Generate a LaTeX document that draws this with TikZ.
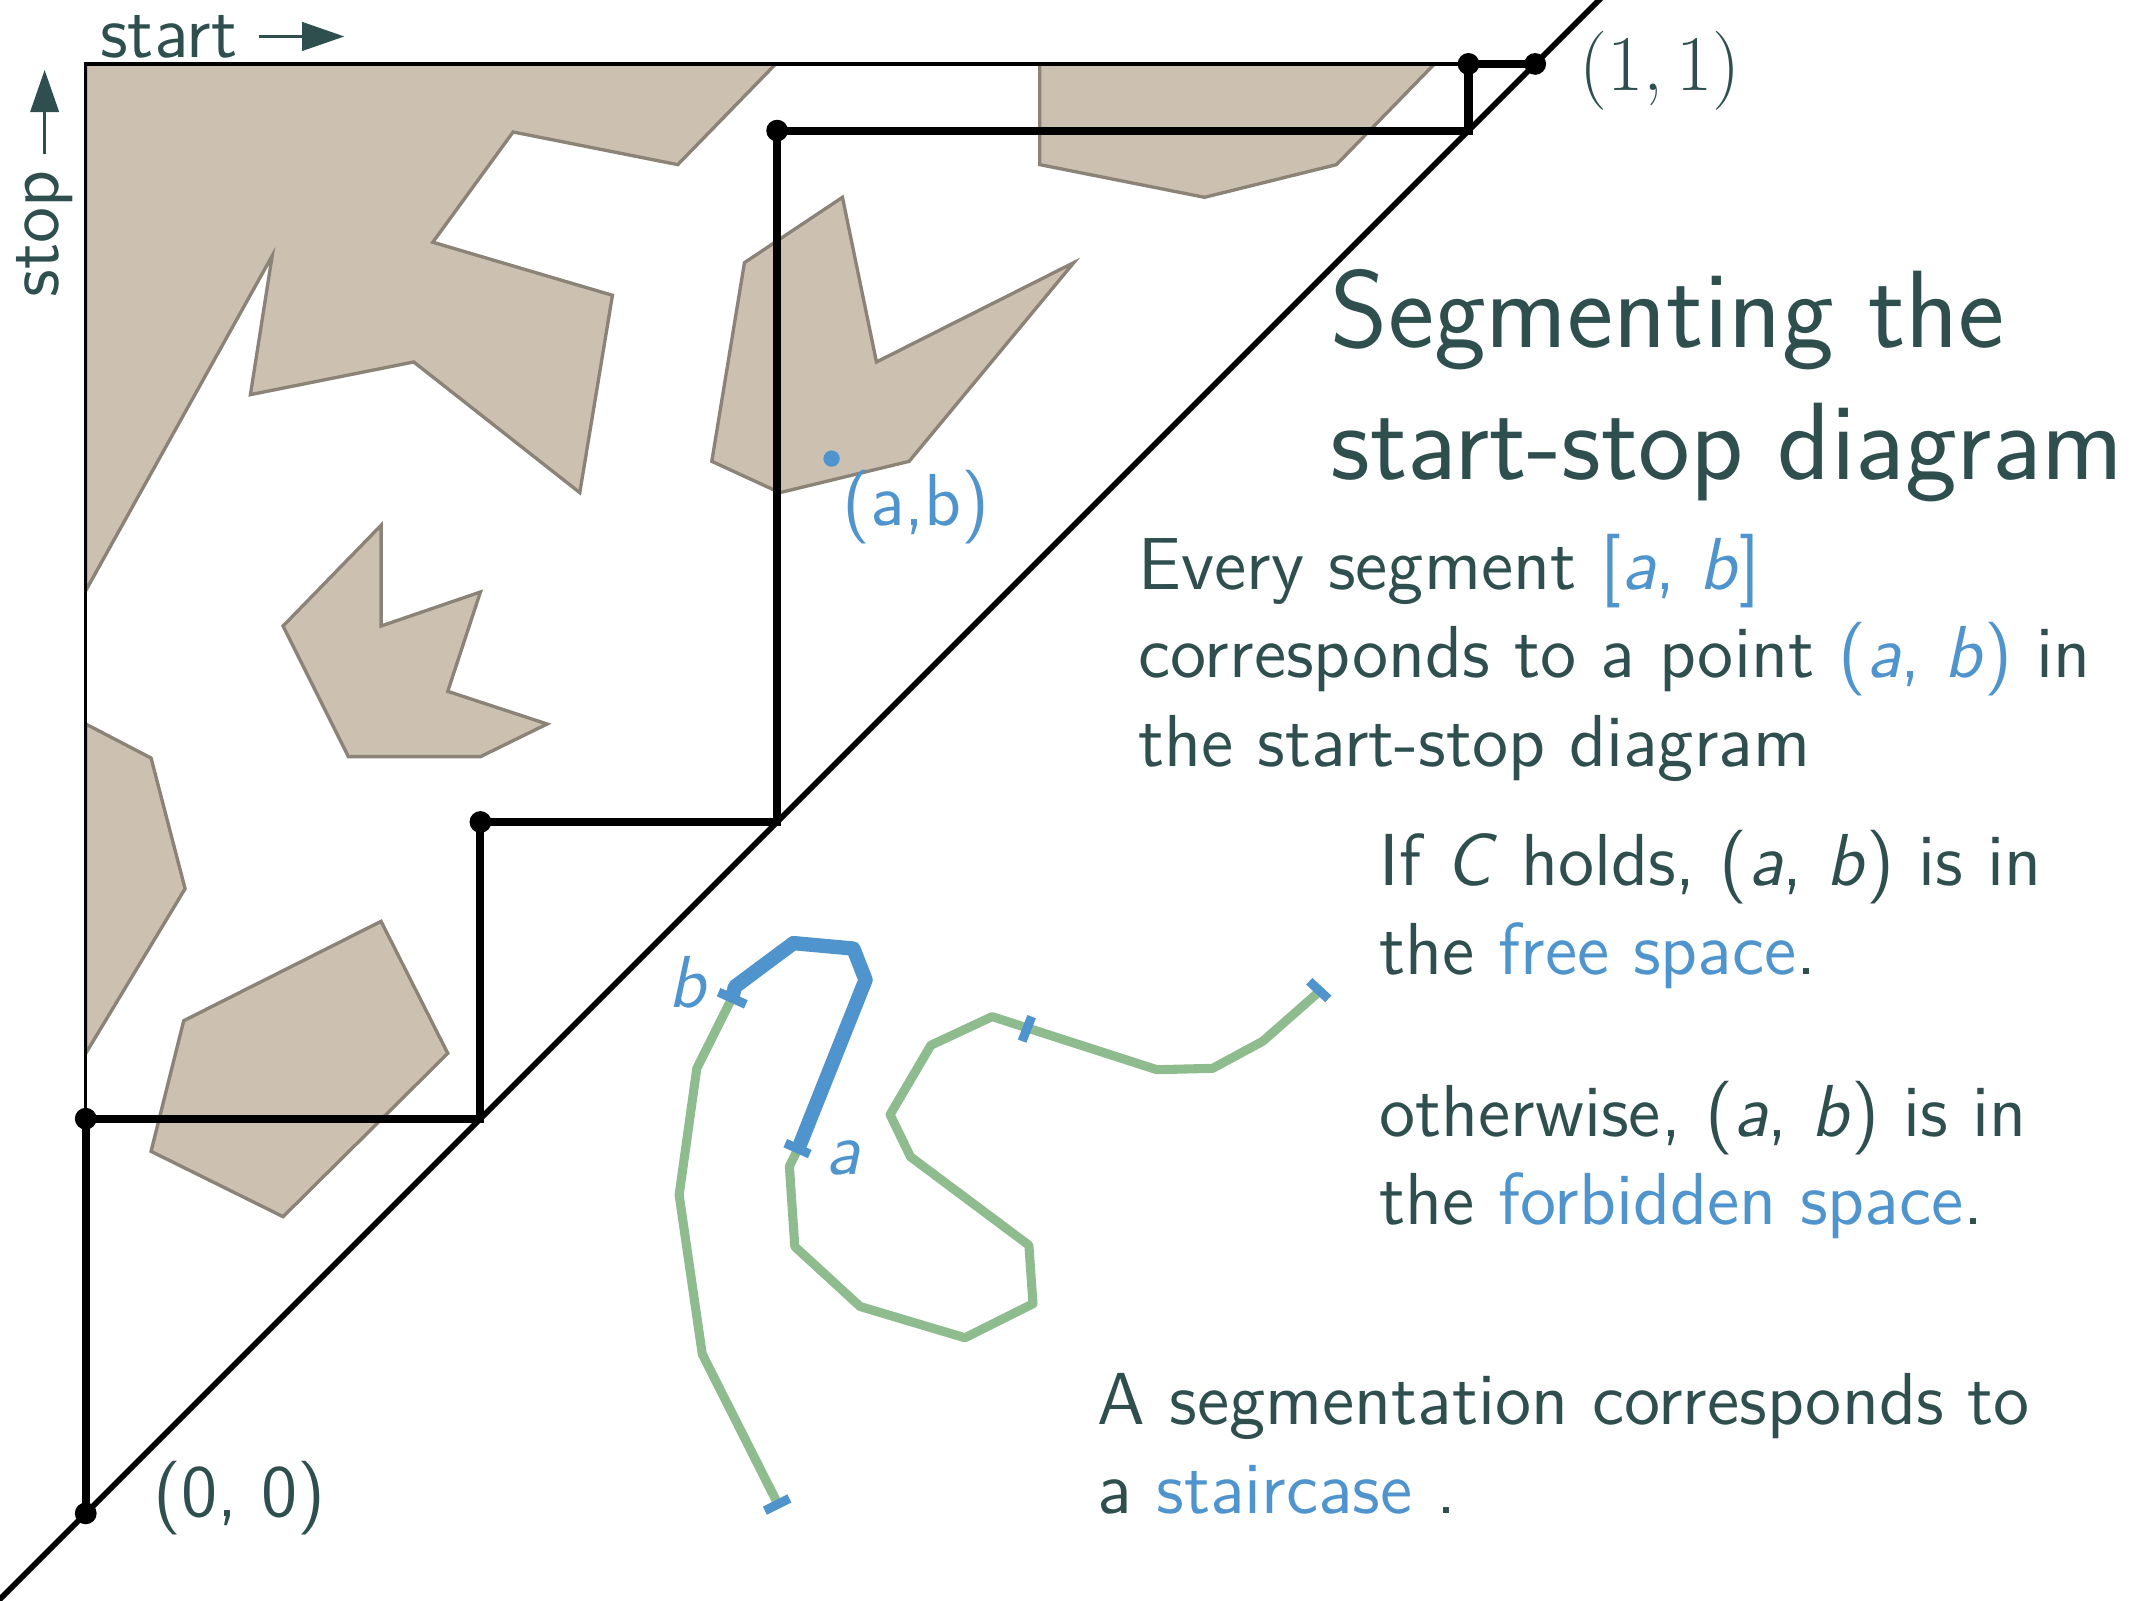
\documentclass[tikz,border=0pt]{standalone}
\usetikzlibrary{arrows.meta,calc}
\definecolor{ink}{HTML}{2F4F4F}
\definecolor{hl}{HTML}{4F94CD}
\definecolor{track}{HTML}{8FBC8F}
\definecolor{sand}{HTML}{CCC0B0}
\definecolor{sandedge}{HTML}{8B8378}
\newcommand{\hilite}[1]{\textcolor{hl}{#1}}

\begin{document}
\begin{tikzpicture}[
  font=\sffamily,
  >={Triangle[length=3.1mm,width=2.1mm]},
  body/.style={font=\sffamily\fontsize{15.4}{18.5}\selectfont, text=ink,
               align=left, inner sep=0pt},
  heading/.style={font=\sffamily\fontsize{23}{27.5}\selectfont, text=ink,
                  align=left, inner sep=0pt},
  axis/.style={->, draw=ink, line width=0.5pt},
  forbidden/.style={fill=sand, draw=sandedge, line width=0.7pt},
  border/.style={draw=black, line width=0.7pt},
  stair/.style={draw=black, line width=1.7pt},
  corner/.style={circle, fill=black, inner sep=0pt, minimum size=1.6mm},
  trackline/.style={draw=track, line width=1.9pt, line join=round},
  picked/.style={draw=hl, line width=3pt, line join=round},
  tick/.style={draw=hl, line width=1.9pt}
]
\useasboundingbox (0,0) rectangle (15.68,11.76);

% forbidden space
\draw[forbidden] (0.63,11.29) -- (5.70,11.29) -- (4.98,10.55) -- (3.77,10.79)
  -- (3.18,9.98) -- (4.50,9.59) -- (4.26,8.14) -- (3.04,9.10) -- (1.84,8.86)
  -- (2.00,9.88) -- (0.63,7.42) -- cycle;
\draw[forbidden] (7.64,11.29) -- (7.64,10.55) -- (8.85,10.31) -- (9.82,10.55)
  -- (10.54,11.29) -- cycle;
\draw[forbidden] (5.47,9.83) -- (6.19,10.31) -- (6.44,9.10) -- (7.89,9.83)
  -- (6.68,8.37) -- (5.73,8.14) -- (5.23,8.37) -- cycle;
\draw[forbidden] (2.80,7.90) -- (2.80,7.16) -- (3.53,7.41) -- (3.29,6.68)
  -- (4.02,6.44) -- (3.53,6.20) -- (2.56,6.20) -- (2.08,7.16) -- cycle;
\draw[forbidden] (0.63,6.44) -- (1.11,6.19) -- (1.36,5.23) -- (0.63,4.02) -- cycle;
\draw[forbidden] (1.35,4.26) -- (2.80,4.99) -- (3.29,4.02) -- (2.08,2.82)
  -- (1.11,3.30) -- cycle;

% start-stop square and diagonal
\coordinate (O) at (0.63,0.64);
\coordinate (E) at (11.28,11.29);
\draw[border] (O) |- (E);
\draw[line width=1.2pt] ($(O)!-0.08!(E)$) -- ($(O)!1.07!(E)$);

% staircase
\coordinate (s1) at (0.63,3.54);
\coordinate (d1) at (3.53,3.54);
\coordinate (s2) at (3.53,5.72);
\coordinate (d2) at (5.71,5.72);
\coordinate (s3) at (5.71,10.80);
\coordinate (d3) at (10.79,10.80);
\coordinate (s4) at (10.79,11.29);
\draw[stair] (O) -- (s1) -- (d1) -- (s2) -- (d2) -- (s3) -- (d3) -- (s4) -- (E);
\foreach \p in {O,s1,s2,s3,s4,E}
  \node[corner] at (\p) {};

% axes
\node[body, anchor=base west] (startlbl) at (0.73,11.34) {start};
\draw[axis] ([xshift=1.5mm]startlbl.east) -- ([xshift=7.8mm]startlbl.east);
\node[body, rotate=90, anchor=base west] (stoplbl) at (0.43,9.57) {stop};
\draw[axis] ([yshift=1.1mm]stoplbl.east) -- ([yshift=7.3mm]stoplbl.east);

\node[body, anchor=west] (zero) at (1.12,0.755) {(0, 0)};
\node[body, anchor=west, font=\rmfamily\fontsize{16.5}{18.5}\selectfont] (one)
  at (11.60,11.24) {(1,\,1)};

% the point (a,b)
\node[circle, fill=hl, inner sep=0pt, minimum size=1.2mm] (ab) at (6.11,8.39) {};
\node[body, text=hl] (ablbl) at (6.73,8.03) {(a,b)};

% track with a segment
\draw[trackline] (5.71,0.72) -- (5.16,1.81) -- (4.99,2.98) -- (5.12,3.91) -- (5.38,4.43);
\draw[trackline] (5.87,3.33) -- (5.80,3.19) -- (5.84,2.60) -- (6.32,2.16)
  -- (7.09,1.93) -- (7.59,2.18) -- (7.56,2.61) -- (6.69,3.26) -- (6.54,3.57)
  -- (6.84,4.08) -- (7.29,4.29) -- (8.50,3.90) -- (8.91,3.91) -- (9.28,4.11)
  -- (9.70,4.48);
\draw[picked] (5.38,4.43) -- (5.40,4.51) -- (5.83,4.83) -- (6.27,4.79)
  -- (6.36,4.56) -- (5.87,3.33);
\foreach \xa/\ya/\xb/\yb in {5.62/0.66/5.80/0.75, 5.28/4.47/5.48/4.38,
    5.77/3.36/5.95/3.28, 7.58/4.29/7.51/4.11, 9.62/4.55/9.76/4.42}
  \draw[tick] (\xa,\ya) -- (\xb,\yb);
\node[body, text=hl, anchor=base] (blbl) at (5.06,4.36) {\textit{b}};
\node[body, text=hl, anchor=base] (albl) at (6.20,3.13) {\textit{a}};

% title and text
\node[heading, anchor=base west] (title) at (9.77,8.24)
  {Segmenting the\\start-stop diagram};
\node[body, anchor=base west] (every) at (8.36,6.13)
  {Every segment \hilite{[\textit{a}, \textit{b}]}\\corresponds to a point
   \hilite{(\textit{a}, \textit{b})} in\\the start-stop diagram};
\node[body, anchor=base west] (free) at (10.13,4.60)
  {If \textit{C} holds, (\textit{a}, \textit{b}) is in\\the \hilite{free space}.};
\node[body, anchor=base west] (forbid) at (10.13,2.76)
  {otherwise, (\textit{a}, \textit{b}) is in\\the \hilite{forbidden space}.};
\node[body, anchor=base west] (stairs) at (8.06,0.64)
  {A segmentation corresponds to\\a \hilite{staircase} .};

\end{tikzpicture}
\end{document}
